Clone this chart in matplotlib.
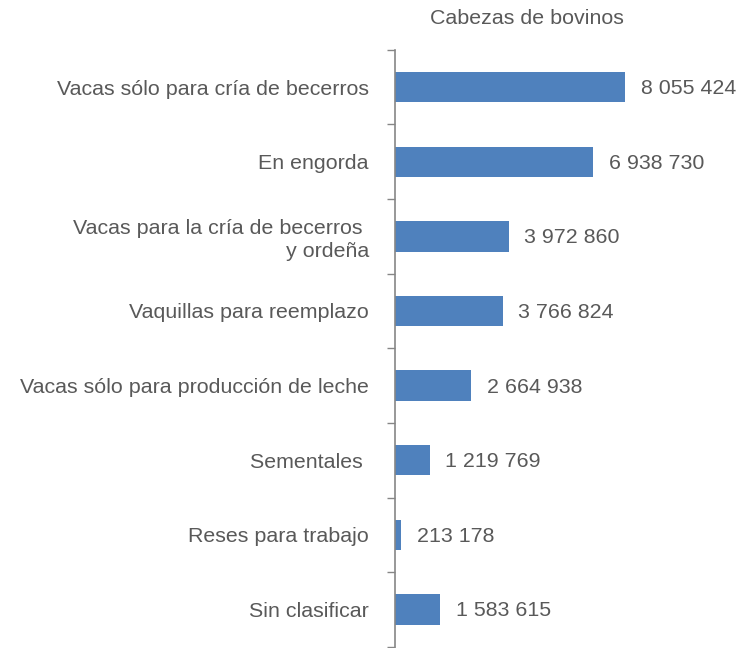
import matplotlib
matplotlib.use("Agg")
import matplotlib.pyplot as plt
import numpy as np

categories = [
    "Vacas sólo para cría de becerros",
    "En engorda",
    "Vacas para la cría de becerros \ny ordeña",
    "Vaquillas para reemplazo",
    "Vacas sólo para producción de leche",
    "Sementales ",
    "Reses para trabajo",
    "Sin clasificar",
]
values = [8055424, 6938730, 3972860, 3766824, 2664938, 1219769, 213178, 1583615]
title = "Cabezas de bovinos"

plt.rcParams['font.family'] = ['Liberation Sans', 'DejaVu Sans']
text_color = "#595959"
bar_color = "#4F81BD"
axis_color = "#868686"
fs = 15.4

fig = plt.figure(figsize=(7.4, 6.48), dpi=100)
ax = fig.add_axes([0.534, 0.002, 0.466, 0.921])

y = np.arange(len(categories))
ax.barh(y, values, height=0.41, color=bar_color)
ax.set_ylim(len(categories) - 0.5, -0.5)
ax.set_xlim(0, 12.08e6)

def fmt(v):
    return f"{v:,}".replace(",", " ")

for yi, v in zip(y, values):
    ax.text(v + 0.54e6, yi + 0.02, fmt(v), va='center', ha='left', fontsize=fs, color=text_color)

ax.set_yticks(y)
ax.set_yticklabels(categories, fontsize=fs, color=text_color, ha='right',
                   multialignment='right', linespacing=1.25)
ax.tick_params(axis='y', which='major', length=0, pad=19)
ax.set_yticks(np.arange(len(categories) + 1) - 0.5, minor=True)
ax.tick_params(axis='y', which='minor', length=5.5, width=1, color=axis_color, direction='out')
ax.set_xticks([])

for s in ['top', 'right', 'bottom']:
    ax.spines[s].set_visible(False)
ax.spines['left'].set_color(axis_color)
ax.spines['left'].set_linewidth(1.2)

fig.text(527 / 740, 1 - 19 / 648, title, ha='center', va='center', fontsize=fs, color=text_color)

fig.savefig("out.png", dpi=100)
